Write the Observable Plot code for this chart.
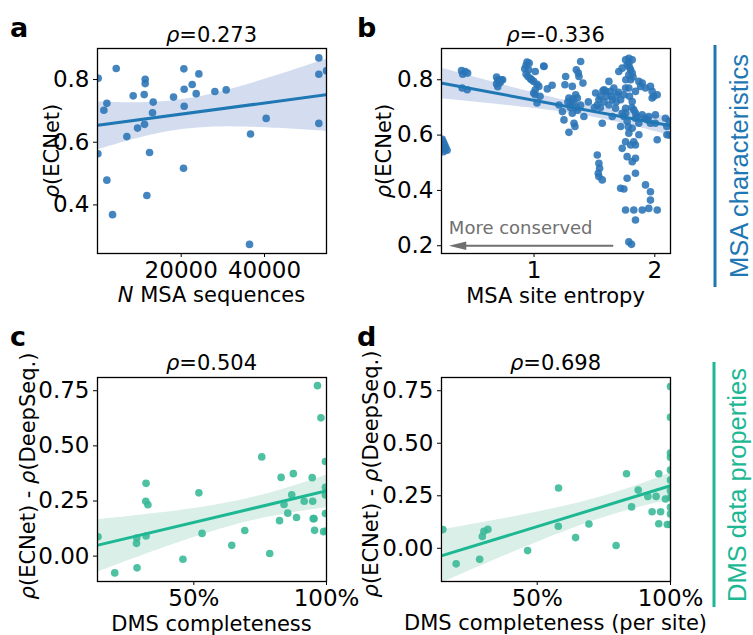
<!DOCTYPE html>
<html><head><meta charset="utf-8">
<script src="https://cdn.jsdelivr.net/npm/d3@7"></script>
<script src="https://cdn.jsdelivr.net/npm/@observablehq/plot@0.6"></script>
<style>
body{margin:0;background:#fff;}
#wrap{position:relative;width:753px;height:635px;overflow:hidden;background:#fff;}
</style></head><body><div id="wrap"></div>
<script>
// ---------- Panel a: N MSA sequences vs rho(ECNet)
const aNseq = [80,4400,0,1440,2160,2160,3520,6960,8480,9520,11120,11360,11360,11200,11760,12400,13280,13120,18160,20640,20720,20720,20560,22640,23600,24240,28080,30800,36640,36400,40400,53040,53040,53040,54880];
const aRho  = [0.804,0.835,0.563,0.702,0.724,0.479,0.369,0.618,0.748,0.645,0.752,0.801,0.787,0.657,0.430,0.567,0.728,0.694,0.744,0.834,0.769,0.715,0.517,0.784,0.755,0.818,0.762,0.767,0.626,0.274,0.676,0.869,0.817,0.660,0.828];

// ---------- Panel b: MSA site entropy vs rho(ECNet)
const bEntropy = [
  0.24,0.25,0.26,0.27,0.26,0.28,0.25,
  0.40,0.41,0.45,0.405,0.447,0.43,
  0.69,0.70,0.71,0.69,0.73,0.74,0.72,0.70,
  0.942,0.934,0.923,0.956,0.934,0.950,0.970,0.997,1.025,1.040,1.010,0.997,1.010,1.025,1.010,1.080,1.110,0.960,0.980,
  1.386,1.350,1.367,1.372,1.262,1.256,1.317,1.405,1.289,1.345,1.359,1.303,1.386,1.413,1.331,1.339,1.289,1.248,1.317,1.207,1.235,1.300,1.330,1.360,1.320,1.280,1.350,
  1.510,1.537,1.524,1.565,1.620,1.593,1.634,1.661,1.689,1.648,1.620,1.675,1.717,1.744,1.758,1.648,1.580,1.600,1.550,1.680,1.700,1.570,1.640,
  1.702,1.730,1.758,1.785,1.813,1.771,1.800,1.785,1.813,1.868,1.896,1.882,1.785,1.840,1.813,1.758,1.826,1.744,1.771,1.854,1.868,1.785,1.868,1.758,1.826,1.840,1.800,1.730,1.771,1.840,1.813,1.840,1.771,1.717,1.744,1.785,1.790,1.800,1.820,1.760,1.790,1.810,1.760,1.840,1.780,
  1.923,1.964,1.964,1.950,2.020,1.896,1.826,1.758,1.840,1.785,1.807,
  1.524,1.537,1.543,1.532,1.537,1.565,
  1.923,1.964,1.978,1.992,1.978,1.840,1.896,1.950,2.005,1.964,2.005,2.088,2.100,2.100,2.020,1.813,1.717,1.730,2.020,2.120,2.120,1.920,1.940,
  1.083,1.150,1.050,1.500,1.550,1.580,1.450
];
const bRho = [
  0.585,0.575,0.565,0.555,0.548,0.545,0.540,
  0.833,0.820,0.824,0.770,0.764,0.830,
  0.810,0.800,0.795,0.785,0.800,0.800,0.790,0.775,
  0.864,0.852,0.840,0.836,0.821,0.812,0.804,0.794,0.784,0.776,0.764,0.752,0.746,0.716,0.830,0.850,0.767,0.860,0.800,
  0.866,0.836,0.824,0.812,0.812,0.782,0.776,0.788,0.734,0.746,0.734,0.716,0.709,0.667,0.643,0.631,0.610,0.655,0.679,0.709,0.685,0.700,0.720,0.690,0.730,0.720,0.700,
  0.752,0.728,0.709,0.643,0.794,0.758,0.758,0.770,0.746,0.728,0.709,0.697,0.728,0.746,0.770,0.667,0.720,0.740,0.700,0.720,0.755,0.760,0.740,
  0.830,0.842,0.872,0.878,0.872,0.854,0.836,0.818,0.824,0.794,0.788,0.776,0.770,0.758,0.721,0.697,0.691,0.667,0.649,0.667,0.643,0.607,0.601,0.576,0.576,0.564,0.564,0.552,0.522,0.516,0.504,0.462,0.444,0.408,0.405,0.860,0.845,0.800,0.810,0.800,0.740,0.700,0.680,0.680,0.630,
  0.420,0.395,0.365,0.335,0.329,0.329,0.329,0.329,0.293,0.214,0.205,
  0.528,0.498,0.480,0.462,0.450,0.438,
  0.770,0.776,0.758,0.740,0.734,0.661,0.673,0.667,0.673,0.643,0.643,0.661,0.631,0.601,0.583,0.625,0.631,0.679,0.746,0.650,0.600,0.660,0.655,
  0.848,0.780,0.740,0.700,0.740,0.764,0.720
];
const arrowX = [1.66, 0.295];   // "More conserved" arrow, from -> to (entropy units)
const arrowLevel = [0.2];
const arrowText = ["More conserved"];

// ---------- Panel c: DMS completeness vs rho difference
const cCompl = [0.139,0.202,0.284,0.285,0.286,0.320,0.319,0.327,0.320,0.459,0.519,0.531,0.643,0.692,0.756,0.786,0.823,0.829,0.840,0.854,0.869,0.875,0.887,0.916,0.946,0.948,0.950,0.953,0.955,0.966,0.979,0.996,0.996,0.996,0.996,0.989,0.998];
const cDiff  = [0.088,-0.076,0.058,0.082,-0.053,0.330,0.249,0.233,0.091,-0.014,0.287,0.103,0.049,0.116,0.450,0.012,0.161,0.357,0.234,0.195,0.278,0.374,0.175,0.249,0.356,0.249,0.170,0.170,0.117,0.773,0.627,0.429,0.312,0.277,0.193,0.111,0.114];

// ---------- Panel d: DMS completeness (per site) vs rho difference
const dCompl = [0.146,0.196,0.284,0.294,0.300,0.315,0.464,0.580,0.579,0.644,0.694,0.796,0.835,0.854,0.879,0.915,0.931,0.946,0.956,0.956,0.963,0.981,0.988,1.0,1.0,1.0,1.0,1.0,1.0,1.0,1.0,1.0,1.0,1.0];
const dDiff  = [0.089,-0.074,-0.052,0.056,0.081,0.090,-0.011,0.287,0.105,0.051,0.116,0.013,0.355,0.197,0.277,0.247,0.174,0.247,0.355,0.117,0.174,0.235,0.113,0.770,0.624,0.453,0.433,0.373,0.325,0.274,0.195,0.163,0.113,0.242];

// ---------- Tick labels / texts
const aXTicks = [20000, 40000], aYTicks = [0.4, 0.6, 0.8];
const bXTicks = [1, 2], bYTicks = [0.2, 0.4, 0.6, 0.8];
const cdXTicks = [0.5, 1.0], cdYTicks = [0, 0.25, 0.5, 0.75];
const titles = ["=0.273", "=-0.336", "=0.504", "=0.698"];
const letters = ["a", "b", "c", "d"];

const BLUE = "#1f77b4", BLUE_PT = "#2a74b6", BLUE_BAND = "#d3ddef";
const TEAL = "#1db893", TEAL_PT = "#37b896", TEAL_BAND = "#d9efe7";
const GRAY = "#707070";
const TICK_FS = 23;

const wrap = document.getElementById("wrap");

function panel(o) {
  const data = o.x.map((v, i) => ({x: v, y: o.y[i]}));
  const chart = Plot.plot({
    width: o.width, height: o.height,
    marginLeft: o.mL, marginRight: o.mR, marginTop: o.mT, marginBottom: o.mB,
    style: `position:absolute;left:${o.left}px;top:${o.top}px;font-family:'DejaVu Sans',sans-serif;font-size:${TICK_FS}px;color:#000;background:transparent;overflow:visible`,
    x: {domain: o.xDomain},
    y: {domain: o.yDomain},
    marks: [
      Plot.linearRegressionY(data, {x: "x", y: "y", stroke: "none", fill: o.band, fillOpacity: 1, ci: 0.95, clip: true}),
      Plot.dot(data, {x: "x", y: "y", r: 3.8, fill: o.pt, fillOpacity: 0.88, clip: true}),
      Plot.linearRegressionY(data, {x: "x", y: "y", stroke: o.line, strokeWidth: 3, ci: 0, clip: true}),
      ...(o.extra || []),
      Plot.frame({stroke: "#000", strokeWidth: 1.3}),
      Plot.axisX({ticks: o.xTicks, tickFormat: o.xFmt, tickSize: 4, tickPadding: 4, fontSize: TICK_FS, label: null}),
      Plot.axisY({ticks: o.yTicks, tickFormat: o.yFmt, tickSize: 4, tickPadding: 4, fontSize: TICK_FS, label: null})
    ]
  });
  wrap.appendChild(chart);
}

const pct = d => Math.round(d * 100) + "%";

panel({x: aNseq, y: aRho, xDomain: [-90, 54880], yDomain: [0.245, 0.899],
  xTicks: aXTicks, yTicks: aYTicks, xFmt: d3.format("d"), yFmt: d3.format(".1f"),
  left: 0, top: 0, width: 350, height: 310, mL: 97, mR: 24, mT: 48, mB: 57,
  line: BLUE, pt: BLUE_PT, band: BLUE_BAND});

const leftHead = {draw(ctx, size) {
  const s = Math.sqrt(size / Math.PI);
  ctx.moveTo(0, 0); ctx.lineTo(2.9 * s, -0.72 * s); ctx.lineTo(2.9 * s, 0.72 * s); ctx.closePath();
}};

panel({x: bEntropy, y: bRho, xDomain: [0.234, 2.13], yDomain: [0.172, 0.913],
  xTicks: bXTicks, yTicks: bYTicks, xFmt: d3.format("d"), yFmt: d3.format(".1f"),
  left: 350, top: 0, width: 340, height: 310, mL: 91, mR: 20, mT: 48, mB: 57,
  line: BLUE, pt: BLUE_PT, band: BLUE_BAND,
  extra: [
    Plot.ruleY(arrowLevel, {x1: arrowX[0], x2: arrowX[1] + 0.1, stroke: GRAY, strokeWidth: 1.8}),
    Plot.dot(arrowLevel, {x: arrowX[1], y: d => d, r: 6, symbol: leftHead, fill: GRAY, stroke: "none"}),
    Plot.text(arrowText, {x: arrowX[1], y: 0.243, text: d => d, textAnchor: "start", lineAnchor: "bottom", fill: GRAY, fontSize: 18})
  ]});

panel({x: cCompl, y: cDiff, xDomain: [0.137, 1.0], yDomain: [-0.115, 0.810],
  xTicks: cdXTicks, yTicks: cdYTicks, xFmt: pct, yFmt: d3.format(".2f"),
  left: 0, top: 315, width: 350, height: 320, mL: 97, mR: 24, mT: 62, mB: 54,
  line: TEAL, pt: TEAL_PT, band: TEAL_BAND});

panel({x: dCompl, y: dDiff, xDomain: [0.141, 1.0], yDomain: [-0.158, 0.813],
  xTicks: cdXTicks, yTicks: cdYTicks, xFmt: pct, yFmt: d3.format(".2f"),
  left: 350, top: 315, width: 340, height: 320, mL: 91, mR: 20, mT: 62, mB: 54,
  line: TEAL, pt: TEAL_PT, band: TEAL_BAND});

// ---------- overlay texts
const ov = d3.select(wrap).append("svg")
  .attr("width", 753).attr("height", 635)
  .style("position", "absolute").style("left", 0).style("top", 0)
  .style("font-family", "'DejaVu Sans', sans-serif").style("overflow", "visible");

function rich(sel, parts) {
  parts.forEach(([t, it]) => sel.append("tspan").text(t).attr("font-style", it ? "italic" : null));
  return sel;
}
function txt(x, y, parts, opts = {}) {
  const t = ov.append("text").attr("font-size", opts.size || 21).attr("fill", opts.fill || "#000")
    .attr("text-anchor", opts.anchor || "middle");
  if (opts.weight) t.attr("font-weight", opts.weight);
  if (opts.family) t.attr("font-family", opts.family);
  if (opts.rotate) t.attr("transform", `translate(${x},${y}) rotate(-90)`);
  else t.attr("x", x).attr("y", y);
  return rich(t, parts);
}

// titles
txt(211.5, 41.5, [["ρ", 1], [titles[0]]]);
txt(555.5, 41.5, [["ρ", 1], [titles[1]]]);
txt(211.5, 370, [["ρ", 1], [titles[2]]]);
txt(555.5, 369.5, [["ρ", 1], [titles[3]]]);

// x labels
txt(211.5, 302, [["N", 1], [" MSA sequences"]]);
txt(555.5, 303, [["MSA site entropy"]]);
txt(211.5, 631, [["DMS completeness"]]);
txt(555.5, 630, [["DMS completeness (per site)"]]);

// y labels
txt(59, 151, [["ρ", 1], ["(ECNet)"]], {rotate: true});
txt(391, 151, [["ρ", 1], ["(ECNet)"]], {rotate: true});
txt(35, 476, [["ρ", 1], ["(ECNet) - "], ["ρ", 1], ["(DeepSeq.)"]], {rotate: true});
txt(378, 474, [["ρ", 1], ["(ECNet) - "], ["ρ", 1], ["(DeepSeq.)"]], {rotate: true});

// panel letters
txt(10, 36.5, [[letters[0]]], {anchor: "start", weight: "bold", size: 27});
txt(357, 36.5, [[letters[1]]], {anchor: "start", weight: "bold", size: 27});
txt(10, 346, [[letters[2]]], {anchor: "start", weight: "bold", size: 27});
txt(357, 346, [[letters[3]]], {anchor: "start", weight: "bold", size: 27});

// side group labels
ov.append("line").attr("x1", 715).attr("x2", 715).attr("y1", 45).attr("y2", 287).attr("stroke", BLUE).attr("stroke-width", 3);
ov.append("line").attr("x1", 714).attr("x2", 714).attr("y1", 362).attr("y2", 607).attr("stroke", TEAL).attr("stroke-width", 3);
txt(748, 166, [["MSA characteristics"]], {rotate: true, size: 25.5, fill: BLUE, family: "'Liberation Sans', Arial, sans-serif"});
txt(745.5, 485, [["DMS data properties"]], {rotate: true, size: 25.5, fill: TEAL, family: "'Liberation Sans', Arial, sans-serif"});
</script>
</body></html>
